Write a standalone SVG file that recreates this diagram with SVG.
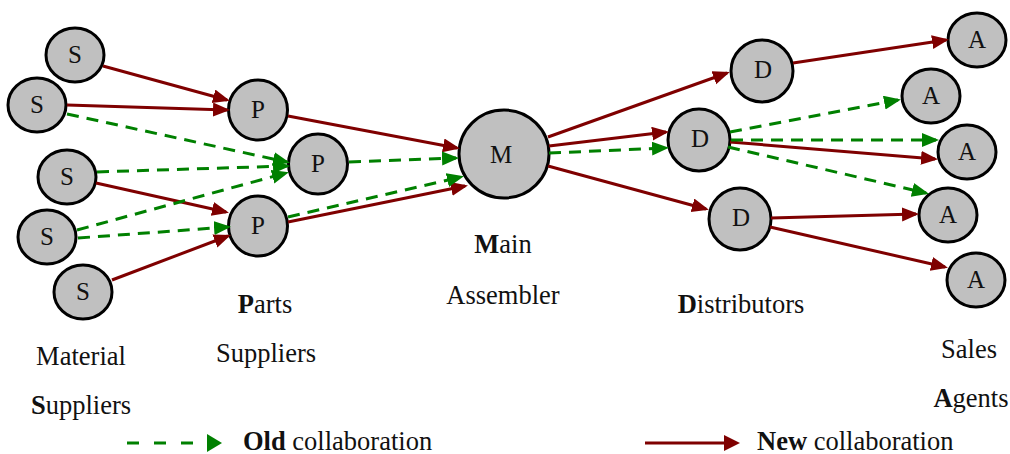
<svg xmlns="http://www.w3.org/2000/svg" width="1010" height="454" viewBox="0 0 1010 454" font-family="'Liberation Serif', 'Times New Roman', 'DejaVu Serif', serif">
<defs>
<style>
.n ellipse{fill:#c0c0c0;stroke:#000;stroke-width:3}
.n text{font-size:25px;text-anchor:middle;fill:#111}
.lbl{font-size:26.5px;fill:#111}
.c{text-anchor:middle}
.new{stroke:#7f0000;stroke-width:3;fill:none;marker-end:url(#ar)}
.old{stroke:#008000;stroke-width:3;fill:none;stroke-dasharray:12 8;marker-end:url(#ag)}
</style>
<marker id="ar" markerUnits="userSpaceOnUse" markerWidth="18" markerHeight="16" refX="14" refY="7" orient="auto" viewBox="0 0 18 16"><path d="M0,0 L17,7 L0,14 z" fill="#7f0000"/></marker>
<marker id="ag" markerUnits="userSpaceOnUse" markerWidth="18" markerHeight="16" refX="14" refY="7" orient="auto" viewBox="0 0 18 16"><path d="M0,0 L17,7 L0,14 z" fill="#008000"/></marker>
</defs>
<rect width="1010" height="454" fill="#fff"/>

<g id="S1" class="n"><ellipse cx="75" cy="55" rx="29" ry="27"/><text x="75" y="63">S</text></g>
<g id="S2" class="n"><ellipse cx="37" cy="105" rx="29" ry="27"/><text x="37" y="113">S</text></g>
<g id="S3" class="n"><ellipse cx="67" cy="177" rx="29" ry="27"/><text x="67" y="185">S</text></g>
<g id="S4" class="n"><ellipse cx="47" cy="237" rx="29" ry="27"/><text x="47" y="245">S</text></g>
<g id="S5" class="n"><ellipse cx="83" cy="292" rx="29" ry="27"/><text x="83" y="300">S</text></g>

<g id="P1" class="n"><ellipse cx="258" cy="110" rx="29.5" ry="30"/><text x="258" y="118">P</text></g>
<g id="P2" class="n"><ellipse cx="318" cy="164" rx="29.5" ry="30"/><text x="318" y="172">P</text></g>
<g id="P3" class="n"><ellipse cx="258" cy="226" rx="29.5" ry="30"/><text x="258" y="234">P</text></g>

<g id="M" class="n"><ellipse cx="504" cy="154" rx="45" ry="44"/><text x="501" y="163">M</text></g>

<g id="D1" class="n"><ellipse cx="762" cy="71" rx="31" ry="31"/><text x="763" y="78">D</text></g>
<g id="D2" class="n"><ellipse cx="699" cy="140" rx="31" ry="31"/><text x="700" y="147">D</text></g>
<g id="D3" class="n"><ellipse cx="740" cy="219" rx="31" ry="31"/><text x="741" y="226">D</text></g>

<g id="A1" class="n"><ellipse cx="977" cy="40" rx="29" ry="27"/><text x="977" y="48">A</text></g>
<g id="A2" class="n"><ellipse cx="931" cy="96" rx="29" ry="27"/><text x="931" y="104">A</text></g>
<g id="A3" class="n"><ellipse cx="967" cy="152" rx="29" ry="27"/><text x="967" y="160">A</text></g>
<g id="A4" class="n"><ellipse cx="948" cy="215" rx="29" ry="27"/><text x="948" y="223">A</text></g>
<g id="A5" class="n"><ellipse cx="976" cy="280" rx="29" ry="27"/><text x="976" y="288">A</text></g>

<g id="connectors">
<line class="new" x1="103" y1="66" x2="227" y2="100"/>
<line class="new" x1="67" y1="105" x2="227" y2="110"/>
<line class="new" x1="288" y1="116" x2="457" y2="148"/>
<line class="new" x1="96" y1="183" x2="226" y2="212"/>
<line class="new" x1="112" y1="280" x2="228" y2="236"/>
<line class="new" x1="288" y1="222" x2="465" y2="186"/>
<line class="new" x1="548" y1="137" x2="727" y2="73"/>
<line class="new" x1="549" y1="146" x2="666" y2="132"/>
<line class="new" x1="548" y1="166" x2="706" y2="209"/>
<line class="new" x1="793" y1="63" x2="946" y2="40"/>
<line class="new" x1="730" y1="142" x2="935" y2="159"/>
<line class="new" x1="771" y1="218" x2="916" y2="214"/>
<line class="new" x1="770" y1="227" x2="945" y2="267"/>

<line class="old" x1="67" y1="114" x2="287" y2="162"/>
<line class="old" x1="97" y1="172" x2="287" y2="166"/>
<line class="old" x1="77" y1="230" x2="286" y2="173"/>
<line class="old" x1="78" y1="238" x2="228" y2="227"/>
<line class="old" x1="349" y1="162" x2="456" y2="158"/>
<line class="old" x1="288" y1="217" x2="461" y2="177"/>
<line class="old" x1="549" y1="153" x2="666" y2="148"/>
<line class="old" x1="730" y1="132" x2="898" y2="100"/>
<line class="old" x1="731" y1="140" x2="936" y2="140"/>
<line class="old" x1="728" y1="147" x2="926" y2="193"/>
</g>

<g id="labels">
<text class="lbl c" x="81" y="365">Material</text>
<text class="lbl c" x="81" y="414"><tspan font-weight="bold">S</tspan>uppliers</text>
<text class="lbl c" x="265" y="313"><tspan font-weight="bold">P</tspan>arts</text>
<text class="lbl c" x="266" y="362">Suppliers</text>
<text class="lbl c" x="503" y="253"><tspan font-weight="bold">M</tspan>ain</text>
<text class="lbl c" x="503" y="304">Assembler</text>
<text class="lbl c" x="741" y="313"><tspan font-weight="bold">D</tspan>istributors</text>
<text class="lbl c" x="969" y="358">Sales</text>
<text class="lbl c" x="971" y="407"><tspan font-weight="bold">A</tspan>gents</text>
</g>

<g id="legend">
<line x1="127" y1="443" x2="206" y2="443" stroke="#008000" stroke-width="3" stroke-dasharray="12 15"/>
<polygon points="207,434 222,443 207,452" fill="#008000"/>
<text class="lbl" x="243" y="450"><tspan font-weight="bold">Old</tspan> collaboration</text>
<line x1="645" y1="443" x2="726" y2="443" stroke="#7f0000" stroke-width="3"/>
<polygon points="724,435 740,443 724,451" fill="#7f0000"/>
<text class="lbl" x="757" y="450"><tspan font-weight="bold">New</tspan> collaboration</text>
</g>
</svg>
